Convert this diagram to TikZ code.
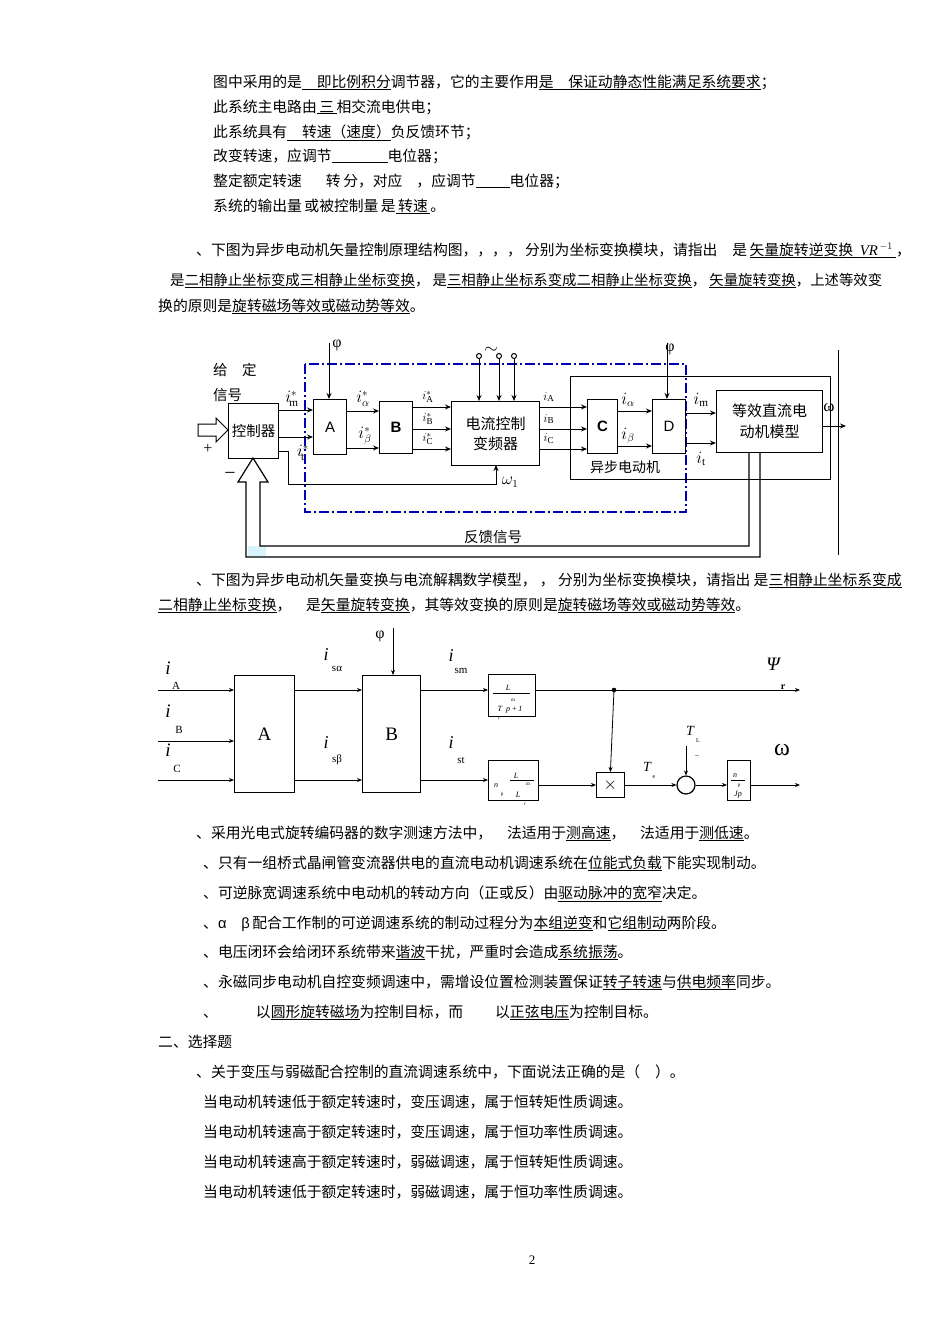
\documentclass[tikz,border=0pt]{standalone}
\usepackage{fontspec}
\setmainfont{Liberation Serif}
\newfontfamily\cj{Noto Sans CJK SC}
\newfontfamily\lsans{Liberation Sans}
\usetikzlibrary{arrows.meta}
\begin{document}
\begin{tikzpicture}[x=1pt,y=-1pt,
  tx/.style={anchor=base west,inner sep=0pt,font=\cj\fontsize{14.8}{15}\selectfont},
  blk/.style={draw,line width=1.2pt,inner sep=0pt,anchor=north west},
  sb/.style={draw,line width=0.8pt,inner sep=0pt,anchor=north west},
  ar/.style={-{Stealth[length=6pt,width=5pt]},line width=1pt},
  ar2/.style={-{Stealth[length=5pt,width=4pt]},line width=0.8pt},
  lb/.style={inner sep=0pt,font=\fontsize{16}{16}\selectfont},
  sb3/.style={inner sep=0pt,font=\fontsize{13}{13}\selectfont},
  sub/.style={inner sep=0pt,font=\fontsize{9}{9}\selectfont}]
\useasboundingbox (0,0) rectangle (950,1344);
\fill[white] (0,0) rectangle (950,1344);
% ---- top text
\node[tx] (t1) at (213,87) {图中采用的是\underline{\quad 即比例积分}调节器，它的主要作用\underline{是\quad 保证动静态性能满足系统要求}；};
\node[tx] (t2) at (213,112) {此系统主电路由\underline{\,三\,}相交流电供电；};
\node[tx] (t3) at (213,137) {此系统具有\underline{\quad 转速（速度）}负反馈环节；};
\node[tx] (t4) at (213,161) {改变转速，应调节\underline{\hspace{56pt}}电位器；};
\node[tx] (t5) at (213,186) {整定额定转速\hspace{24pt}转\,分，对应\hspace{14pt}，应调节\underline{\hspace{34pt}}电位器；};
\node[tx] (t6) at (213,211) {系统的输出量\,或被控制量\,是\underline{\,转速\,}。};
\node[tx] (t7) at (196,255) {、下图为异步电动机矢量控制原理结构图，，，，\ 分别为坐标变换模块，请指出\quad 是\,\underline{矢量旋转逆变换\ \ {\rmfamily\itshape VR}$^{\,-1}$\ }，};
\node[tx,font=\cj\fontsize{14.4}{15}\selectfont] (t8) at (170,285) {是\underline{二相静止坐标变成三相静止坐标变换}，\ 是\underline{三相静止坐标系变成二相静止坐标变换}，\ \underline{矢量旋转变换}，上述等效变};
\node[tx] (t9) at (158,311) {换的原则是\underline{旋转磁场等效或磁动势等效}。};
% ---- diagram 1
\draw[blue!70!black,line width=1.3pt,dash pattern=on 10pt off 3pt on 2pt off 3pt] (305,364) rectangle (686,512);
\node[blk,minimum width=50pt,minimum height=55pt,font=\cj\fontsize{14.5}{15}\selectfont] (ctl) at (228,403) {控制器};
\node[blk,minimum width=33pt,minimum height=55pt,font=\lsans\fontsize{15}{15}\selectfont] (A) at (313,399) {A};
\node[blk,minimum width=33pt,minimum height=52pt,font=\lsans\bfseries\fontsize{15}{15}\selectfont] (B) at (379,401) {B};
\node[blk,minimum width=88pt,minimum height=64pt,align=center,font=\cj\fontsize{15}{20}\selectfont] (cc) at (451,401) {电流控制\\变频器};
\node[draw,line width=1.2pt,minimum width=260pt,minimum height=103pt,anchor=north west] (mot) at (570,376) {};
\node[blk,minimum width=30pt,minimum height=54pt,font=\lsans\bfseries\fontsize{15}{15}\selectfont] (C) at (587,399) {C};
\node[blk,minimum width=33pt,minimum height=54pt,font=\lsans\fontsize{15}{15}\selectfont] (D) at (652,399) {D};
\node[blk,minimum width=106pt,minimum height=62pt,align=center,font=\cj\fontsize{15}{21}\selectfont] (dc) at (716,390) {等效直流电\\动机模型};
\node[font=\cj\fontsize{14}{14}\selectfont,inner sep=0pt] (ybl) at (625,467) {异步电动机};
\node[font=\cj\fontsize{14.5}{15}\selectfont,inner sep=0pt,anchor=west] (gd) at (213,370) {给\quad 定};
\node[font=\cj\fontsize{14.5}{15}\selectfont,inner sep=0pt,anchor=west] (xh) at (213,395) {信号};
\node[font=\cj\fontsize{14.5}{15}\selectfont,inner sep=0pt] (fk) at (493,537) {反馈信号};
\node[lb] (plus) at (208,449) {+};
\node[lb,font=\fontsize{20}{20}\selectfont] (minus) at (230,476) {−};
% input hollow arrow
\draw[line width=1pt,fill=white] (198,424) -- (216,424) -- (216,418) -- (228,430) -- (216,442) -- (216,436) -- (198,436) -- cycle;
% phi inputs
\node[lb] (phi1) at (337,345) {φ};
\coordinate (pa) at (329,343);
\draw[ar] (pa) -- (pa|-A.north);
\node[lb] (phi2) at (670,349) {φ};
\coordinate (pd) at (667,343);
\draw[ar] (pd) -- (pd|-D.north);
% terminals
\foreach \xx/\nm in {479/k1,499/k2,514/k3}{
  \node[draw,circle,line width=1pt,minimum size=5pt,inner sep=0pt] (\nm) at (\xx,356) {};
  \draw[ar] (\nm.south) -- (\nm.south|-cc.north);}
\node[lb,font=\bfseries\fontsize{18}{18}\selectfont] (tilde) at (491,350) {$\sim$};
% ctl -> A
\coordinate (y1) at (0,410); \coordinate (y2) at (0,437);
\draw[ar] (ctl.east|-y1) -- (A.west|-y1);
\draw[ar] (ctl.east|-y2) -- (A.west|-y2);
\node[lb] (im) at (292,399) {$i^{*}_{\!\rm m}$};
\node[lb] (it) at (303,453) {$i^{*}_{\!\rm t}$};
% ctl -> omega1
\coordinate (w0) at (278,451); \coordinate (w1) at (288,484);
\draw[ar] (ctl.east|-w0) -| (w1) -| (496,465);
\node[lb] (w1l) at (510,482) {$\omega_1$};
% A -> B
\draw[ar] (A.east|-0,411) -- (B.west|-0,411);
\draw[ar] (A.east|-0,448) -- (B.west|-0,448);
\node[lb] (ia) at (363,399) {$i^{*}_{\alpha}$};
\node[lb] (ib) at (365,436) {$i^{*}_{\beta}$};
% B -> cc
\foreach \yy/\s in {407/A,429/B,449/C}{
  \draw[ar] (B.east|-0,\yy) -- (cc.west|-0,\yy);
  \node[sb3] at (428,\yy-10) {$i^{*}_{\rm \s}$};}
% cc -> C
\foreach \yy/\s in {407/A,429/B,449/C}{
  \draw[ar] (cc.east|-0,\yy) -- (C.west|-0,\yy);
  \node[sb3] at (549,\yy-10) {$i_{\rm \s}$};}
% C -> D
\draw[ar] (C.east|-0,411) -- (D.west|-0,411);
\draw[ar] (C.east|-0,446) -- (D.west|-0,446);
\node[lb] (ial) at (628,400) {$i_{\alpha}$};
\node[lb] (ibe) at (628,436) {$i_{\beta}$};
% D -> dc
\draw[ar] (D.east|-0,413) -- (dc.west|-0,413);
\draw[ar] (D.east|-0,443) -- (dc.west|-0,443);
\node[lb] (imm) at (701,400) {$i_{\rm m}$};
\node[lb] (itt) at (701,459) {$i_{\rm t}$};
% output
\coordinate (wo) at (846,426);
\draw[ar] (dc.east|-wo) -- (wo);
\node[lb,font=\fontsize{17}{17}\selectfont] (wl) at (829,408) {ω};
\coordinate (v1) at (838,350); \coordinate (v2) at (838,555);
\draw[line width=0.8pt] (v1) -- (v2);
% feedback hollow
\fill[cyan!15] (248,546) rectangle (266,556);
\draw[line width=1.2pt] (749,452) -- (749,546) -- (260,546) -- (260,482) -- (268,482) -- (253,458) -- (238,482) -- (246,482) -- (246,557) -- (760,557) -- (760,452);
% ---- mid text
\node[tx] (t10) at (196,585) {、下图为异步电动机矢量变换与电流解耦数学模型，\ ，\ 分别为坐标变换模块，请指出\ 是\underline{三相静止坐标系变成}};
\node[tx] (t11) at (158,610) {\underline{二相静止坐标变换}，\quad 是\underline{矢量旋转变换}，其等效变换的原则是\underline{旋转磁场等效或磁动势等效}。};
% ---- diagram 2
\node[blk,minimum width=60pt,minimum height=117pt,font=\fontsize{19}{19}\selectfont] (A2) at (234,675) {A};
\node[blk,minimum width=58pt,minimum height=117pt,font=\fontsize{19}{19}\selectfont] (B2) at (362,675) {B};
\node[sb,minimum width=47pt,minimum height=42pt] (g1) at (488,674) {};
\draw[line width=0.6pt] (493,693) -- (530,693);
\node[sub,font=\itshape\fontsize{8}{8}\selectfont] (g1a) at (508,688) {L};
\node[sub,font=\fontsize{5}{5}\selectfont] (g1b) at (513,700) {m};
\node[sub,font=\itshape\fontsize{8}{8}\selectfont] (g1c) at (510,710) {T\ \ p\,+\,1};
\node[sub,font=\fontsize{5}{5}\selectfont] (g1d) at (499,718) {r};
\node[sb,minimum width=50pt,minimum height=40pt] (g2) at (488,760) {};
\draw[line width=0.6pt] (510,780) -- (534,780);
\node[sub,font=\itshape\fontsize{8}{8}\selectfont] (g2a) at (516,776) {L};
\node[sub,font=\fontsize{5}{5}\selectfont] (g2b) at (528,784) {m};
\node[sub,font=\itshape\fontsize{8}{8}\selectfont] (g2c) at (496,786) {n};
\node[sub,font=\fontsize{5}{5}\selectfont] (g2d) at (502,795) {p};
\node[sub,font=\itshape\fontsize{8}{8}\selectfont] (g2e) at (518,795) {L};
\node[sub,font=\fontsize{5}{5}\selectfont] (g2f) at (525,804) {r};
\node[sb,minimum width=28pt,minimum height=25pt,font=\fontsize{16}{16}\selectfont] (mul) at (596,772) {$\times$};
\node[draw,circle,line width=1.2pt,minimum size=18pt,inner sep=0pt] (sum) at (686,785) {};
\node[sb,minimum width=23pt,minimum height=40pt] (g3) at (727,760) {};
\draw[line width=0.6pt] (731,780) -- (745,780);
\node[sub,font=\itshape\fontsize{8}{8}\selectfont] (g3a) at (735,776) {n};
\node[sub,font=\fontsize{5}{5}\selectfont] (g3b) at (739,786) {p};
\node[sub,font=\itshape\fontsize{8}{8}\selectfont] (g3c) at (738,795) {Jp};
% inputs
\foreach \yy in {690,741,780}{\draw[ar2] (158,\yy) -- (A2.west|-0,\yy);}
\node[lb,font=\itshape\fontsize{19}{19}\selectfont] (iA) at (168,668) {i};
\node[sub,font=\fontsize{11}{11}\selectfont] (iAs) at (176,686) {A};
\node[lb,font=\itshape\fontsize{19}{19}\selectfont] (iB) at (168,711) {i};
\node[sub,font=\fontsize{11}{11}\selectfont] (iBs) at (179,730) {B};
\node[lb,font=\itshape\fontsize{19}{19}\selectfont] (iC) at (168,750) {i};
\node[sub,font=\fontsize{11}{11}\selectfont] (iCs) at (177,769) {C};
% A2 -> B2
\draw[ar2] (A2.east|-0,690) -- (B2.west|-0,690);
\draw[ar2] (A2.east|-0,780) -- (B2.west|-0,780);
\node[lb,font=\itshape\fontsize{18}{18}\selectfont] (isa) at (326,655) {i};
\node[sub,font=\fontsize{11}{11}\selectfont] (isas) at (337,669) {sα};
\node[lb,font=\itshape\fontsize{18}{18}\selectfont] (isb) at (326,743) {i};
\node[sub,font=\fontsize{11}{11}\selectfont] (isbs) at (337,760) {sβ};
\node[lb,font=\fontsize{16}{16}\selectfont] (phi3) at (380,636) {φ};
\draw[ar2] (393,628) -- (393,675);
% B2 -> g
\draw[ar2] (B2.east|-0,690) -- (g1.west|-0,690);
\draw[ar2] (B2.east|-0,780) -- (g2.west|-0,780);
\node[lb,font=\itshape\fontsize{18}{18}\selectfont] (ism) at (451,656) {i};
\node[sub,font=\fontsize{11}{11}\selectfont] (isms) at (461,671) {sm};
\node[lb,font=\itshape\fontsize{18}{18}\selectfont] (ist) at (451,743) {i};
\node[sub,font=\fontsize{11}{11}\selectfont] (ists) at (461,760) {st};
% upper out
\coordinate (dot) at (614,690);
\fill (dot) circle (2.3pt);
\draw[ar2] (g1.east|-0,690) -- (800,690);
\draw[ar2] (dot) -- (mul.north);
\node[lb,font=\itshape\fontsize{19}{19}\selectfont] (psi) at (773,664) {Ψ};
\node[sub,font=\bfseries\fontsize{10}{10}\selectfont] (psir) at (783,687) {r};
% lower chain
\draw[ar2] (g2.east|-0,785) -- (mul.west|-0,785);
\draw[ar2] (mul.east|-0,785) -- (sum.west);
\node[lb,font=\itshape\fontsize{14}{14}\selectfont] (Te) at (647,767) {T};
\node[sub,font=\fontsize{6}{6}\selectfont] (Tes) at (654,777) {e};
\node[lb,font=\itshape\fontsize{14}{14}\selectfont] (TL) at (690,731) {T};
\node[sub,font=\fontsize{6}{6}\selectfont] (TLs) at (698,741) {L};
\node[sub,font=\fontsize{8}{8}\selectfont] (TLm) at (697,757) {−};
\draw[ar2] (686,746) -- (sum.north);
\draw[ar2] (sum.east) -- (g3.west|-0,785);
\draw[ar2] (g3.east|-0,785) -- (800,785);
\node[lb,font=\fontsize{24}{24}\selectfont] (om) at (782,750) {ω};
% ---- lower text
\node[tx] (u1) at (196,838) {、采用光电式旋转编码器的数字测速方法中，\quad 法适用于\underline{测高速}，\quad 法适用于\underline{测低速}。};
\node[tx] (u2) at (203,868) {、只有一组桥式晶闸管变流器供电的直流电动机调速系统在\underline{位能式负载}下能实现制动。};
\node[tx] (u3) at (203,898) {、可逆脉宽调速系统中电动机的转动方向（正或反）由\underline{驱动脉冲的宽窄}决定。};
\node[tx] (u4) at (203,928) {、{\lsans α\quad β}\,配合工作制的可逆调速系统的制动过程分为\underline{本组逆变}和\underline{它组制动}两阶段。};
\node[tx] (u5) at (203,957) {、电压闭环会给闭环系统带来\underline{谐波}干扰，严重时会造成\underline{系统振荡}。};
\node[tx] (u6) at (203,987) {、永磁同步电动机自控变频调速中，需增设位置检测装置保证\underline{转子转速}与\underline{供电频率}同步。};
\node[tx] (u7) at (203,1017) {、\hspace{38pt}以\underline{圆形旋转磁场}为控制目标，而\hspace{32pt}以\underline{正弦电压}为控制目标。};
\node[tx] (u8) at (158,1047) {二、选择题};
\node[tx] (u9) at (196,1077) {、关于变压与弱磁配合控制的直流调速系统中，下面说法正确的是（\quad ）。};
\node[tx] (u10) at (203,1107) {当电动机转速低于额定转速时，变压调速，属于恒转矩性质调速。};
\node[tx] (u11) at (203,1137) {当电动机转速高于额定转速时，变压调速，属于恒功率性质调速。};
\node[tx] (u12) at (203,1167) {当电动机转速高于额定转速时，弱磁调速，属于恒转矩性质调速。};
\node[tx] (u13) at (203,1197) {当电动机转速低于额定转速时，弱磁调速，属于恒功率性质调速。};
\node[lb,font=\fontsize{13}{13}\selectfont] (pg) at (532,1260) {2};
\end{tikzpicture}
\end{document}
